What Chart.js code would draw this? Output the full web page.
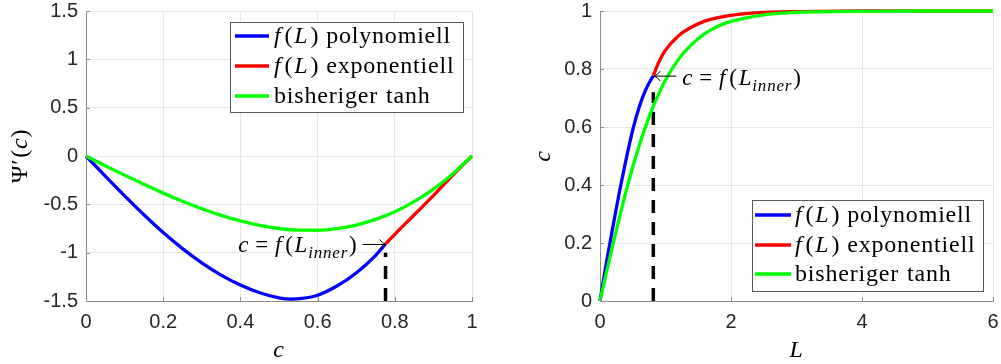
<!DOCTYPE html>
<html>
<head>
<meta charset="utf-8">
<script src="https://cdn.jsdelivr.net/npm/chart.js@4.4.1/dist/chart.umd.min.js"></script>
<style>
  html, body { margin: 0; padding: 0; background: #ffffff; }
  #wrap { position: relative; width: 1001px; height: 364px; overflow: hidden; }
  #wrap canvas { position: absolute; top: 0; }
</style>
</head>
<body>
<div id="wrap">
  <canvas id="psiChart" width="500" height="364" style="left:0px"></canvas>
  <canvas id="cChart" width="501" height="364" style="left:500px"></canvas>
</div>
<script>
// ---- Left panel: Psi'(c) over c ----
const cPoly   = [0, 0.05, 0.1, 0.15, 0.2, 0.25, 0.3, 0.35, 0.4, 0.45, 0.5, 0.53, 0.56, 0.6, 0.65, 0.7, 0.75, 0.776];
const psiPoly = [0, -0.209, -0.413, -0.608, -0.792, -0.958, -1.105, -1.232, -1.335, -1.415, -1.467, -1.48, -1.473, -1.44, -1.345, -1.21, -1.03, -0.91];
const cExp    = [0.776, 0.8, 0.85, 0.9, 0.95, 1];
const psiExp  = [-0.91, -0.81, -0.61, -0.41, -0.20, 0];
const cTanh   = [0, 0.05, 0.1, 0.15, 0.2, 0.25, 0.3, 0.35, 0.4, 0.45, 0.5, 0.55, 0.6, 0.65, 0.7, 0.75, 0.8, 0.85, 0.9, 0.95, 1];
const psiTanh = [0, -0.10, -0.198, -0.293, -0.384, -0.469, -0.546, -0.614, -0.672, -0.718, -0.75, -0.767, -0.768, -0.751, -0.714, -0.656, -0.576, -0.472, -0.342, -0.185, 0];
const cInner      = 0.776;   // c = f(L_inner)
const psiInner    = -0.91;
const psiDashSpan = [-1.5, -1.0];

// ---- Right panel: c over L ----
const lPoly    = [0, 0.1, 0.2, 0.3, 0.4, 0.5, 0.6, 0.7, 0.814];
const cOfLPoly = [0, 0.135, 0.26, 0.38, 0.49, 0.59, 0.67, 0.73, 0.777];
const lExp     = [0.814, 0.9, 1.0, 1.2, 1.4, 1.6, 1.8, 2.0, 2.5, 3, 4, 6];
const cOfLExp  = [0.777, 0.825, 0.865, 0.915, 0.945, 0.965, 0.977, 0.985, 0.995, 0.998, 1, 1];
const lTanh    = [0, 0.1, 0.2, 0.3, 0.4, 0.5, 0.6, 0.7, 0.8, 0.9, 1.0, 1.2, 1.4, 1.6, 1.8, 2.0, 2.5, 3.0, 3.5, 4, 5, 6];
const cOfLTanh = [0, 0.1, 0.197, 0.291, 0.38, 0.462, 0.537, 0.604, 0.664, 0.716, 0.762, 0.834, 0.885, 0.922, 0.947, 0.964, 0.987, 0.995, 0.998, 0.999, 1, 1];
const lInner    = 0.814;
const cInnerR   = 0.777;
const cDashSpan = [0, 0.72];

// ---- Tick labels ----
const xTicksPsi = [0, 0.2, 0.4, 0.6, 0.8, 1];
const yTicksPsi = [-1.5, -1, -0.5, 0, 0.5, 1, 1.5];
const xTicksC   = [0, 2, 4, 6];
const yTicksC   = [0, 0.2, 0.4, 0.6, 0.8, 1];

// ---- Legend entries (rich text: i = italic, g = extra spacing after the part) ----
const legendEntries = [
  { color: '#0000ff', parts: [{t:'f', i:1, g:3}, {t:'(', g:1}, {t:'L', i:1, g:2}, {t:')', g:7}, {t:'polynomiell'}] },
  { color: '#ff0000', parts: [{t:'f', i:1, g:3}, {t:'(', g:1}, {t:'L', i:1, g:2}, {t:')', g:7}, {t:'exponentiell'}] },
  { color: '#00ff00', parts: [{t:'bisheriger', g:8}, {t:'tanh'}] }
];
const innerLabel = [{t:'c', i:1, g:6}, {t:'=', g:6}, {t:'f', i:1, g:3}, {t:'(', g:1}, {t:'L', i:1}, {t:'inner', i:1, sub:1, g:1}, {t:')'}];

const SERIF = '"Liberation Serif", "Times New Roman", serif';
const SANS  = '"Liberation Sans", Arial, Helvetica, sans-serif';

function pts(xs, ys) { return xs.map((x, k) => ({ x: x, y: ys[k] })); }

function partFont(p, size) {
  const s = p.sub ? Math.round(size * 0.72) : size;
  return (p.i ? 'italic ' : '') + s + 'px ' + SERIF;
}
function richWidth(ctx, parts, size) {
  let w = 0;
  parts.forEach(p => { ctx.font = partFont(p, size); w += ctx.measureText(p.t).width + (p.g || 0); });
  return w;
}
function drawRich(ctx, parts, x, y, size, align) {
  ctx.letterSpacing = '0.8px';
  const w = richWidth(ctx, parts, size);
  let cx = align === 'right' ? x - w : (align === 'center' ? x - w / 2 : x);
  ctx.textAlign = 'left';
  ctx.textBaseline = 'alphabetic';
  parts.forEach(p => {
    ctx.font = partFont(p, size);
    ctx.fillText(p.t, cx, y + (p.sub ? size * 0.28 : 0));
    cx += ctx.measureText(p.t).width + (p.g || 0);
  });
  ctx.letterSpacing = '0px';
  return w;
}

// thin arrow (shaft + hooked head) from (x0,y) to (x1,y)
function drawArrow(ctx, x0, x1, y) {
  const dir = x1 > x0 ? 1 : -1;
  ctx.strokeStyle = '#000000';
  ctx.lineWidth = 1;
  ctx.beginPath();
  ctx.moveTo(x0, y + 0.5);
  ctx.lineTo(x1, y + 0.5);
  ctx.moveTo(x1 - dir * 6, y - 4.5);
  ctx.quadraticCurveTo(x1 - dir * 3, y - 0.5, x1, y + 0.5);
  ctx.quadraticCurveTo(x1 - dir * 3, y + 1.5, x1 - dir * 6, y + 5.5);
  ctx.stroke();
}

function drawLegend(ctx, box, rowYs, lineX0, lineX1, textX) {
  ctx.fillStyle = '#ffffff';
  ctx.fillRect(box.x, box.y, box.w, box.h);
  ctx.strokeStyle = '#5a5a5a';
  ctx.lineWidth = 1;
  ctx.strokeRect(box.x + 0.5, box.y + 0.5, box.w, box.h);
  legendEntries.forEach((e, k) => {
    const y = rowYs[k];
    ctx.strokeStyle = e.color;
    ctx.lineWidth = 3.5;
    ctx.beginPath();
    ctx.moveTo(lineX0, y);
    ctx.lineTo(lineX1, y);
    ctx.stroke();
    ctx.fillStyle = '#000000';
    drawRich(ctx, e.parts, textX, y + 7, 24, 'left');
  });
}

function makeDeco(extra) {
  return {
    id: 'deco',
    afterDraw(chart) {
      const ctx = chart.ctx;
      const a = chart.chartArea;
      const xs = chart.scales.x, ys = chart.scales.y;
      ctx.save();
      // inward tick marks on the left and bottom axes
      ctx.strokeStyle = '#8c8c8c';
      ctx.lineWidth = 1;
      xs.ticks.forEach(t => {
        const px = Math.round(xs.getPixelForValue(t.value)) + 0.5;
        ctx.beginPath(); ctx.moveTo(px, a.bottom); ctx.lineTo(px, a.bottom - 4); ctx.stroke();
      });
      ys.ticks.forEach(t => {
        const py = Math.round(ys.getPixelForValue(t.value)) + 0.5;
        ctx.beginPath(); ctx.moveTo(a.left, py); ctx.lineTo(a.left + 4, py); ctx.stroke();
      });
      extra(chart, ctx, xs, ys, a);
      ctx.restore();
    }
  };
}

function axisOpts(min, max, ticks, isY, axisWidth) {
  return {
    type: 'linear',
    min: min, max: max,
    afterBuildTicks: s => { s.ticks = ticks.map(v => ({ value: v })); },
    afterFit: s => {
      if (isY) { s.width = axisWidth; s.paddingTop = 0; s.paddingBottom = 0; }
      else { s.height = 63; s.paddingLeft = 0; s.paddingRight = 0; }
    },
    grid: { color: '#e6e6e6', lineWidth: 1, drawTicks: false },
    border: { display: true, color: '#8c8c8c', width: 1 },
    ticks: {
      padding: isY ? 8 : 9,
      color: '#262626',
      font: { family: SANS, size: 20 },
      autoSkip: false,
      maxRotation: 0,
      callback: v => String(v)
    },
    title: { display: false }
  };
}

function lineSet(data, color, order) {
  return {
    data: data, showLine: true, borderColor: color, backgroundColor: color,
    borderWidth: 3.3, pointRadius: 0, fill: false,
    cubicInterpolationMode: 'monotone', order: order, clip: 4
  };
}
function dashSet(data) {
  return {
    data: data, showLine: true, borderColor: '#000000', borderWidth: 3.5,
    pointRadius: 0, borderDash: [13, 9], tension: 0, order: 5, clip: 4
  };
}

Chart.defaults.animation = false;
Chart.defaults.devicePixelRatio = 1;

// Left chart
new Chart(document.getElementById('psiChart'), {
  type: 'scatter',
  data: {
    datasets: [
      lineSet(pts(cTanh, psiTanh), '#00ff00', 0),
      lineSet(pts(cExp, psiExp), '#ff0000', 1),
      lineSet(pts(cPoly, psiPoly), '#0000ff', 2),
      dashSet(pts([cInner, cInner], psiDashSpan))
    ]
  },
  options: {
    responsive: false,
    events: [],
    layout: { padding: { top: 11, right: 28, bottom: 0, left: 0 } },
    scales: {
      x: axisOpts(0, 1, xTicksPsi, false),
      y: axisOpts(-1.5, 1.5, yTicksPsi, true, 86)
    },
    plugins: { legend: { display: false }, tooltip: { enabled: false } }
  },
  plugins: [makeDeco((chart, ctx, xs, ys, a) => {
    ctx.fillStyle = '#000000';
    // annotation pointing at c = f(L_inner)
    const jx = xs.getPixelForValue(cInner), jy = ys.getPixelForValue(psiInner);
    drawArrow(ctx, jx - 23, jx, jy);
    drawRich(ctx, innerLabel, jx - 28, jy + 8, 23, 'right');
    // axis titles
    drawRich(ctx, [{t:'c', i:1}], (a.left + a.right) / 2, 357, 24, 'center');
    ctx.save();
    ctx.translate(27, (a.top + a.bottom) / 2);
    ctx.rotate(-Math.PI / 2);
    drawRich(ctx, [{t:'\u03A8\u2032', g:1}, {t:'('}, {t:'c', i:1}, {t:')'}], 0, 0, 24, 'center');
    ctx.restore();
    drawLegend(ctx, { x: 230, y: 22, w: 233, h: 90 }, [36, 66, 96], 235, 269, 274);
  })]
});

// Right chart
new Chart(document.getElementById('cChart'), {
  type: 'scatter',
  data: {
    datasets: [
      lineSet(pts(lTanh, cOfLTanh), '#00ff00', 0),
      lineSet(pts(lExp, cOfLExp), '#ff0000', 1),
      lineSet(pts(lPoly, cOfLPoly), '#0000ff', 2),
      dashSet(pts([lInner, lInner], cDashSpan))
    ]
  },
  options: {
    responsive: false,
    events: [],
    layout: { padding: { top: 11, right: 8, bottom: 0, left: 0 } },
    scales: {
      x: axisOpts(0, 6, xTicksC, false),
      y: axisOpts(0, 1, yTicksC, true, 100)
    },
    plugins: { legend: { display: false }, tooltip: { enabled: false } }
  },
  plugins: [makeDeco((chart, ctx, xs, ys, a) => {
    ctx.fillStyle = '#000000';
    const jx = xs.getPixelForValue(lInner), jy = ys.getPixelForValue(cInnerR);
    drawArrow(ctx, jx + 23, jx + 1, jy);
    drawRich(ctx, innerLabel, jx + 29, jy + 9, 23, 'left');
    drawRich(ctx, [{t:'L', i:1}], (a.left + a.right) / 2, 357, 24, 'center');
    ctx.save();
    ctx.translate(50, (a.top + a.bottom) / 2);
    ctx.rotate(-Math.PI / 2);
    drawRich(ctx, [{t:'c', i:1}], 0, 0, 24, 'center');
    ctx.restore();
    drawLegend(ctx, { x: 252, y: 200, w: 231, h: 91 }, [215, 245, 274], 255, 291, 295);
  })]
});
</script>
</body>
</html>
